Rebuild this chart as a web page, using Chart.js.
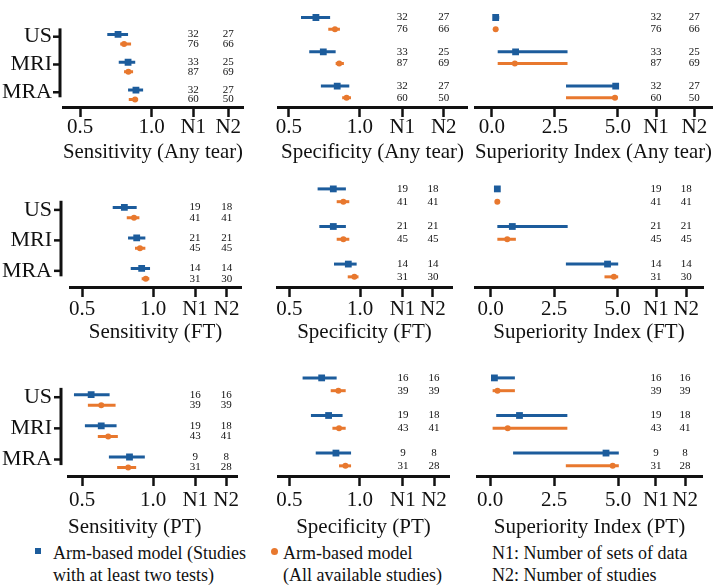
<!DOCTYPE html>
<html>
<head>
<meta charset="utf-8">
<script src="https://cdn.jsdelivr.net/npm/chart.js@4.4.1/dist/chart.umd.min.js"></script>
<style>
  body { margin: 0; background: #fff; }
  #wrap { position: relative; width: 721px; height: 587px; overflow: hidden; font-family: 'Liberation Serif', Tinos, 'Times New Roman', Times, 'Noto Serif', 'DejaVu Serif', serif; color: #111; }
  #wrap canvas { position: absolute; }
  .legend { position: absolute; font-size: 18px; line-height: 22px; white-space: nowrap; }
  .mark { position: absolute; }
</style>
</head>
<body>
<div id="wrap">
  <div class="mark" style="left:35px;top:548px;width:6px;height:6px;background:#1c5c9c;"></div>
  <div class="legend" style="left:53px;top:542px;">Arm-based model (Studies<br>with at least two tests)</div>
  <div class="mark" style="left:271px;top:548px;width:7px;height:7px;border-radius:50%;background:#e8782e;"></div>
  <div class="legend" style="left:283px;top:542px;">Arm-based model<br>(All available studies)</div>
  <div class="legend" style="left:492px;top:542px;">N1: Number of sets of data<br>N2: Number of studies</div>
</div>
<script>
const SERIF = "'Liberation Serif', Tinos, 'Times New Roman', Times, 'Noto Serif', 'DejaVu Serif', serif";
const BLUE = '#1c5c9c';
const ORANGE = '#e8782e';
const INK = '#111';

const modalities = ['US', 'MRI', 'MRA'];
const probTicks = [0.5, 1.0];
const probTickLabels = ['0.5', '1.0', 'N1', 'N2'];
const siTicks = [0, 2.5, 5.0];
const siTickLabels = ['0.0', '2.5', '5.0', 'N1', 'N2'];

// [lower, estimate, upper] for US, MRI, MRA
const sensAnyBlue   = [[0.69, 0.765, 0.835], [0.77, 0.835, 0.885], [0.835, 0.89, 0.94]];
const sensAnyOrange = [[0.78, 0.807, 0.856], [0.807, 0.837, 0.87], [0.84, 0.884, 0.905]];
const specAnyBlue   = [[0.585, 0.69, 0.79], [0.643, 0.742, 0.829], [0.725, 0.84, 0.925]];
const specAnyOrange = [[0.777, 0.824, 0.859], [0.829, 0.854, 0.887], [0.875, 0.906, 0.937]];
const siAnyBlue     = [[0.05, 0.15, 0.29], [0.23, 0.94, 3.0], [2.94, 4.91, 4.99]];
const siAnyOrange   = [[0.1, 0.15, 0.2], [0.23, 0.91, 3.0], [2.94, 4.88, 4.99]];

const sensFtBlue    = [[0.716, 0.798, 0.885], [0.824, 0.885, 0.946], [0.843, 0.92, 0.979]];
const sensFtOrange  = [[0.815, 0.866, 0.904], [0.873, 0.908, 0.946], [0.92, 0.949, 0.974]];
const specFtBlue    = [[0.70, 0.811, 0.90], [0.712, 0.811, 0.90], [0.816, 0.917, 0.976]];
const specFtOrange  = [[0.835, 0.882, 0.924], [0.835, 0.882, 0.924], [0.913, 0.96, 0.989]];
const siFtBlue      = [[0.2, 0.26, 0.35], [0.26, 0.85, 3.03], [2.96, 4.6, 5.02]];
const siFtOrange    = [[0.22, 0.26, 0.3], [0.26, 0.65, 0.99], [4.48, 4.85, 5.02]];

const sensPtBlue    = [[0.442, 0.563, 0.693], [0.519, 0.634, 0.742], [0.688, 0.833, 0.941]];
const sensPtOrange  = [[0.54, 0.634, 0.735], [0.61, 0.683, 0.751], [0.746, 0.824, 0.88]];
const specPtBlue    = [[0.594, 0.729, 0.835], [0.653, 0.778, 0.877], [0.687, 0.83, 0.937]];
const specPtOrange  = [[0.793, 0.847, 0.899], [0.805, 0.852, 0.899], [0.852, 0.897, 0.937]];
const siPtBlue      = [[0.06, 0.17, 0.97], [0.24, 1.15, 3.02], [0.9, 4.53, 5.03]];
const siPtOrange    = [[0.1, 0.29, 0.97], [0.1, 0.69, 3.02], [2.96, 4.79, 5.03]];

// N1 = sets of data, N2 = studies
const anyN1Blue = [32, 33, 32], anyN2Blue = [27, 25, 27];
const anyN1Orange = [76, 87, 60], anyN2Orange = [66, 69, 50];
const ftN1Blue = [19, 21, 14], ftN2Blue = [18, 21, 14];
const ftN1Orange = [41, 45, 31], ftN2Orange = [41, 45, 30];
const ptN1Blue = [16, 19, 9], ptN2Blue = [16, 18, 8];
const ptN1Orange = [39, 43, 31], ptN2Orange = [39, 41, 28];

const anyCounts = { b1: anyN1Blue, b2: anyN2Blue, o1: anyN1Orange, o2: anyN2Orange };
const ftCounts = { b1: ftN1Blue, b2: ftN2Blue, o1: ftN1Orange, o2: ftN2Orange };
const ptCounts = { b1: ptN1Blue, b2: ptN2Blue, o1: ptN1Orange, o2: ptN2Orange };

// layout of the three rows (pixels)
const rows = [
  { top: 0,   padT: 0,  spineY: 107, xH: 58, tickPad: 0, yLabelPad: 11, ySpineOff: 3, chartLeft: 63 },
  { top: 165, padT: 10, spineY: 287, xH: 58, tickPad: 2, yLabelPad: 18, ySpineOff: 9, chartLeft: 70 },
  { top: 354, padT: 10, spineY: 476, xH: 64, tickPad: 4, yLabelPad: 16, ySpineOff: 7, chartLeft: 68 }
];

const panels = [
  { row: 0, col: 0, title: 'Sensitivity (Any tear)', blue: sensAnyBlue, orange: sensAnyOrange, counts: anyCounts, si: false, xMin: 0.381, xMax: 1.637, nPos: [1.29, 1.534], right: 243 },
  { row: 0, col: 1, title: 'Specificity (Any tear)', blue: specAnyBlue, orange: specAnyOrange, counts: anyCounts, si: false, xMin: 0.423, xMax: 1.754, nPos: [1.298, 1.59], left: 278, right: 467 },
  { row: 0, col: 2, title: 'Superiority Index (Any tear)', blue: siAnyBlue, orange: siAnyOrange, counts: anyCounts, si: true, xMin: -0.67, xMax: 8.73, nPos: [6.51, 8.03], left: 475, right: 712 },
  { row: 1, col: 0, title: 'Sensitivity (FT)', blue: sensFtBlue, orange: sensFtOrange, counts: ftCounts, si: false, xMin: 0.415, xMax: 1.62, nPos: [1.296, 1.519], right: 241 },
  { row: 1, col: 1, title: 'Specificity (FT)', blue: specFtBlue, orange: specFtOrange, counts: ftCounts, si: false, xMin: 0.413, xMax: 1.65, nPos: [1.30, 1.515], left: 277, right: 452 },
  { row: 1, col: 2, title: 'Superiority Index (FT)', blue: siFtBlue, orange: siFtOrange, counts: ftCounts, si: true, xMin: -0.62, xMax: 8.36, nPos: [6.51, 7.7], left: 475, right: 703 },
  { row: 2, col: 0, title: 'Sensitivity (PT)', blue: sensPtBlue, orange: sensPtOrange, counts: ptCounts, si: false, xMin: 0.40, xMax: 1.59, nPos: [1.296, 1.514], right: 237, titleAlign: 'start' },
  { row: 2, col: 1, title: 'Specificity (PT)', blue: specPtBlue, orange: specPtOrange, counts: ptCounts, si: false, xMin: 0.42, xMax: 1.63, nPos: [1.304, 1.524], left: 278, right: 449 },
  { row: 2, col: 2, title: 'Superiority Index (PT)', blue: siPtBlue, orange: siPtOrange, counts: ptCounts, si: true, xMin: -0.51, xMax: 8.28, nPos: [6.48, 7.62], left: 477, right: 702 }
];

const BLUE_OFF = -0.08, ORANGE_OFF = 0.26;

function buildDatasets(blue, orange) {
  const sets = [];
  [[blue, BLUE, BLUE_OFF, 'rect', 4.8], [orange, ORANGE, ORANGE_OFF, 'circle', 3]].forEach(([series, color, off, style, r]) => {
    series.forEach((ci, i) => {
      sets.push({
        data: [{ x: ci[0], y: i + off }, { x: ci[2], y: i + off }],
        showLine: true, borderColor: color, borderWidth: 3, pointRadius: 0
      });
    });
    sets.push({
      data: series.map((ci, i) => ({ x: ci[1], y: i + off })),
      pointStyle: style, pointRadius: r, backgroundColor: color, borderColor: color, borderWidth: 0, showLine: false
    });
  });
  return sets;
}

// y spine with gap above the x axis, plus the N1 / N2 columns
const panelDecor = {
  id: 'panelDecor',
  afterDatasetsDraw(chart, args, opts) {
    const { ctx, chartArea } = chart;
    const xs = chart.scales.x, ys = chart.scales.y;
    ctx.save();
    ctx.font = '11px ' + SERIF;
    ctx.fillStyle = INK;
    ctx.textAlign = 'center';
    ctx.textBaseline = 'middle';
    const c = opts.counts;
    modalities.forEach((m, i) => {
      const yb = ys.getPixelForValue(i + BLUE_OFF);
      const yo = ys.getPixelForValue(i + ORANGE_OFF);
      ctx.fillText(String(c.b1[i]), xs.getPixelForValue(opts.nPos[0]), yb);
      ctx.fillText(String(c.b2[i]), xs.getPixelForValue(opts.nPos[1]), yb);
      ctx.fillText(String(c.o1[i]), xs.getPixelForValue(opts.nPos[0]), yo);
      ctx.fillText(String(c.o2[i]), xs.getPixelForValue(opts.nPos[1]), yo);
    });
    if (opts.ySpine) {
      const x = chartArea.left - opts.ySpineOff;
      const y0 = Math.max(0, ys.getPixelForValue(-0.3));
      const y1 = ys.getPixelForValue(2.18);
      ctx.strokeStyle = INK;
      ctx.lineWidth = 3;
      ctx.beginPath();
      ctx.moveTo(x, y0);
      ctx.lineTo(x, y1);
      ctx.stroke();
      ctx.lineWidth = 2.5;
      modalities.forEach((m, i) => {
        const y = ys.getPixelForValue(i);
        ctx.beginPath();
        ctx.moveTo(x - 7, y);
        ctx.lineTo(x, y);
        ctx.stroke();
      });
    }
    ctx.restore();
  }
};

const wrap = document.getElementById('wrap');

panels.forEach(p => {
  const row = rows[p.row];
  const hasY = p.col === 0;
  const padL = hasY ? 0 : 20;
  const padR = 10;
  const left = hasY ? 0 : p.left - padL;
  const width = p.right + padR - left;
  const height = row.padT + (row.spineY - row.top - row.padT) + row.xH;
  const canvas = document.createElement('canvas');
  canvas.width = width;
  canvas.height = height;
  canvas.style.left = left + 'px';
  canvas.style.top = row.top + 'px';
  canvas.style.width = width + 'px';
  canvas.style.height = height + 'px';
  wrap.appendChild(canvas);

  const tickVals = (p.si ? siTicks : probTicks).concat(p.nPos);
  const tickLabels = p.si ? siTickLabels : probTickLabels;

  new Chart(canvas.getContext('2d'), {
    type: 'scatter',
    data: { datasets: buildDatasets(p.blue, p.orange) },
    options: {
      responsive: false,
      animation: false,
      layout: { padding: { left: padL, right: padR, top: row.padT, bottom: 0 } },
      plugins: {
        legend: { display: false },
        tooltip: { enabled: false },
        panelDecor: { counts: p.counts, nPos: p.nPos, ySpine: hasY, ySpineOff: row.ySpineOff }
      },
      scales: {
        x: {
          type: 'linear',
          position: 'bottom',
          min: p.xMin,
          max: p.xMax,
          afterBuildTicks: s => { s.ticks = tickVals.map(v => ({ value: v })); },
          afterFit: s => { s.height = row.xH; },
          ticks: {
            autoSkip: false, maxRotation: 0, padding: row.tickPad, color: INK,
            font: { family: SERIF, size: 21, lineHeight: 1 },
            callback: (v, i) => tickLabels[i]
          },
          grid: { display: true, drawOnChartArea: false, drawTicks: true, tickLength: 10, tickWidth: 2.5, tickColor: INK },
          border: { display: true, color: INK, width: 3 },
          title: {
            display: true, text: p.title, color: INK, align: p.titleAlign || 'center',
            font: { family: SERIF, size: 21, lineHeight: 1.2 }, padding: 0
          }
        },
        y: {
          type: 'linear',
          min: -0.45,
          max: 2.53,
          reverse: true,
          display: hasY,
          afterBuildTicks: s => { s.ticks = modalities.map((m, i) => ({ value: i })); },
          afterFit: s => { if (hasY) s.width = row.chartLeft; },
          ticks: {
            padding: row.yLabelPad, color: INK,
            font: { family: SERIF, size: 22 },
            callback: (v, i) => modalities[i]
          },
          grid: { display: false, drawTicks: false },
          border: { display: false }
        }
      }
    },
    plugins: [panelDecor]
  });
});
</script>
</body>
</html>
